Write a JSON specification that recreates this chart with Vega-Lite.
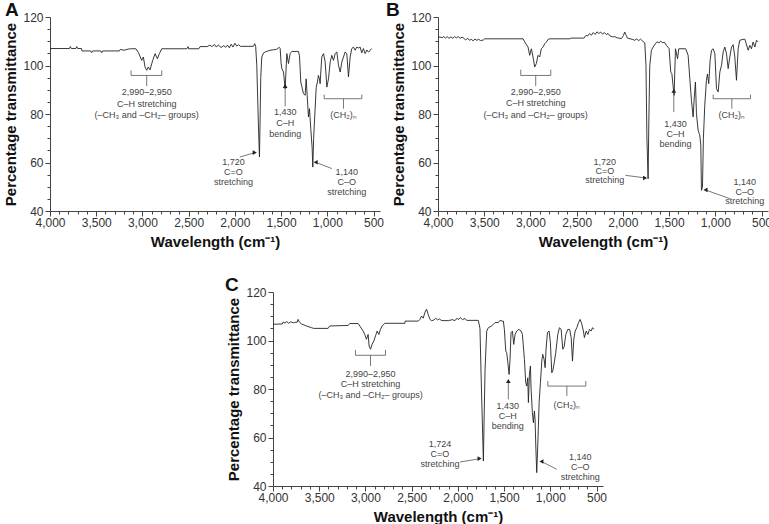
{
"$schema": "https://vega.github.io/schema/vega-lite/v6.json",
"padding": {"left": 3, "top": 1, "right": 0, "bottom": 0},
"background": "white",
"config": {
  "font": "Liberation Sans",
  "view": {"stroke": null},
  "axis": {"grid": false, "domainColor": "#444", "tickColor": "#444", "labelColor": "#333", "labelFontSize": 12, "labelFont": "Liberation Sans", "titleFont": "Liberation Sans", "titleFontWeight": "bold", "titleColor": "#111", "labelOverlap": false, "labelFlush": false, "labelBound": false, "tickCount": 200},
  "axisX": {"titleFontSize": 15},
  "axisY": {"titleFontSize": 15},
  "title": {"font": "Liberation Sans", "fontSize": 19, "fontWeight": "bold", "color": "#111", "anchor": "start", "frame": "group"}
},
"datasets": {
"spec": [
{"p":"A","w":4000,"t":107},{"p":"A","w":3790,"t":107},{"p":"A","w":3780,"t":107.8},{"p":"A","w":3770,"t":107},{"p":"A","w":3720,"t":107},{"p":"A","w":3710,"t":107.8},{"p":"A","w":3700,"t":107},{"p":"A","w":3660,"t":107},{"p":"A","w":3655,"t":106},{"p":"A","w":3560,"t":106},{"p":"A","w":3550,"t":105.3},{"p":"A","w":3540,"t":106},{"p":"A","w":3450,"t":106},{"p":"A","w":3440,"t":105.3},{"p":"A","w":3430,"t":106},{"p":"A","w":3250,"t":106},{"p":"A","w":3240,"t":106.6},{"p":"A","w":3200,"t":106.3},{"p":"A","w":3150,"t":106.8},{"p":"A","w":3120,"t":106.9},{"p":"A","w":3070,"t":106.9},{"p":"A","w":3044,"t":105.4},{"p":"A","w":3008,"t":102.1},{"p":"A","w":2990,"t":103.5},{"p":"A","w":2972,"t":99.4},{"p":"A","w":2954,"t":98},{"p":"A","w":2936,"t":99.4},{"p":"A","w":2918,"t":98.2},{"p":"A","w":2889,"t":102.1},{"p":"A","w":2863,"t":104.9},{"p":"A","w":2838,"t":102.8},{"p":"A","w":2817,"t":104.9},{"p":"A","w":2791,"t":106.9},{"p":"A","w":2520,"t":106.9},{"p":"A","w":2505,"t":107.8},{"p":"A","w":2500,"t":106.9},{"p":"A","w":2390,"t":106.9},{"p":"A","w":2376,"t":107.8},{"p":"A","w":2300,"t":107.8},{"p":"A","w":2270,"t":108.4},{"p":"A","w":2250,"t":107.8},{"p":"A","w":2220,"t":108.6},{"p":"A","w":2200,"t":107.6},{"p":"A","w":2180,"t":108.5},{"p":"A","w":2150,"t":107.4},{"p":"A","w":2120,"t":108.2},{"p":"A","w":2100,"t":107.5},{"p":"A","w":2080,"t":108.4},{"p":"A","w":2060,"t":107.3},{"p":"A","w":2040,"t":108.8},{"p":"A","w":2020,"t":107.6},{"p":"A","w":2000,"t":109.2},{"p":"A","w":1980,"t":108},{"p":"A","w":1960,"t":108.6},{"p":"A","w":1940,"t":107.9},{"p":"A","w":1800,"t":107.9},{"p":"A","w":1785,"t":109},{"p":"A","w":1775,"t":107.9},{"p":"A","w":1763,"t":100},{"p":"A","w":1745,"t":75},{"p":"A","w":1734,"t":62.3},{"p":"A","w":1727,"t":78},{"p":"A","w":1720,"t":95},{"p":"A","w":1709,"t":103.5},{"p":"A","w":1690,"t":105.2},{"p":"A","w":1670,"t":105.6},{"p":"A","w":1619,"t":106.3},{"p":"A","w":1580,"t":106.5},{"p":"A","w":1547,"t":106.7},{"p":"A","w":1520,"t":107.5},{"p":"A","w":1510,"t":107},{"p":"A","w":1500,"t":101},{"p":"A","w":1492,"t":98.7},{"p":"A","w":1474,"t":97.3},{"p":"A","w":1456,"t":90.4},{"p":"A","w":1438,"t":104.9},{"p":"A","w":1420,"t":100.8},{"p":"A","w":1402,"t":104.9},{"p":"A","w":1384,"t":105.8},{"p":"A","w":1312,"t":105.8},{"p":"A","w":1301,"t":104},{"p":"A","w":1287,"t":93.2},{"p":"A","w":1258,"t":88.4},{"p":"A","w":1240,"t":87.7},{"p":"A","w":1229,"t":94.5},{"p":"A","w":1218,"t":87.7},{"p":"A","w":1204,"t":78.8},{"p":"A","w":1193,"t":82.2},{"p":"A","w":1179,"t":74},{"p":"A","w":1164,"t":66},{"p":"A","w":1157,"t":58.1},{"p":"A","w":1148,"t":70},{"p":"A","w":1132,"t":82},{"p":"A","w":1120,"t":91},{"p":"A","w":1107,"t":93.2},{"p":"A","w":1096,"t":95.9},{"p":"A","w":1085,"t":94.6},{"p":"A","w":1078,"t":92.5},{"p":"A","w":1060,"t":103.5},{"p":"A","w":1041,"t":104.9},{"p":"A","w":1023,"t":101.4},{"p":"A","w":1005,"t":91.1},{"p":"A","w":987,"t":94.5},{"p":"A","w":969,"t":101.4},{"p":"A","w":951,"t":104.2},{"p":"A","w":933,"t":102.1},{"p":"A","w":915,"t":104.9},{"p":"A","w":897,"t":105.6},{"p":"A","w":879,"t":100.1},{"p":"A","w":861,"t":97.3},{"p":"A","w":843,"t":101.4},{"p":"A","w":825,"t":103.5},{"p":"A","w":807,"t":105.6},{"p":"A","w":789,"t":104.8},{"p":"A","w":771,"t":95.3},{"p":"A","w":753,"t":103.5},{"p":"A","w":735,"t":107},{"p":"A","w":717,"t":107.6},{"p":"A","w":699,"t":106.3},{"p":"A","w":681,"t":107.6},{"p":"A","w":663,"t":107.2},{"p":"A","w":645,"t":107.6},{"p":"A","w":627,"t":105.2},{"p":"A","w":609,"t":107},{"p":"A","w":591,"t":104.9},{"p":"A","w":572,"t":106.4},{"p":"A","w":554,"t":105.5},{"p":"A","w":536,"t":106.3},{"p":"A","w":520,"t":107},
{"p":"B","w":4000,"t":111.8},{"p":"B","w":3950,"t":111.5},{"p":"B","w":3940,"t":112},{"p":"B","w":3920,"t":111.3},{"p":"B","w":3900,"t":111.9},{"p":"B","w":3880,"t":111.2},{"p":"B","w":3860,"t":111.8},{"p":"B","w":3840,"t":111.2},{"p":"B","w":3820,"t":111.9},{"p":"B","w":3800,"t":111.4},{"p":"B","w":3780,"t":111.9},{"p":"B","w":3760,"t":111.2},{"p":"B","w":3740,"t":111.7},{"p":"B","w":3720,"t":111.2},{"p":"B","w":3700,"t":110.5},{"p":"B","w":3680,"t":111.3},{"p":"B","w":3660,"t":110.4},{"p":"B","w":3640,"t":110.8},{"p":"B","w":3620,"t":110.2},{"p":"B","w":3600,"t":110.9},{"p":"B","w":3580,"t":110.4},{"p":"B","w":3560,"t":110.8},{"p":"B","w":3540,"t":110.3},{"p":"B","w":3510,"t":110.5},{"p":"B","w":3495,"t":111},{"p":"B","w":3080,"t":111},{"p":"B","w":3062,"t":109.7},{"p":"B","w":3026,"t":107.6},{"p":"B","w":3008,"t":104.2},{"p":"B","w":2990,"t":106.9},{"p":"B","w":2972,"t":103.5},{"p":"B","w":2954,"t":99.4},{"p":"B","w":2936,"t":100.8},{"p":"B","w":2918,"t":104.2},{"p":"B","w":2900,"t":103.5},{"p":"B","w":2882,"t":106.9},{"p":"B","w":2864,"t":107.6},{"p":"B","w":2845,"t":109},{"p":"B","w":2827,"t":109.7},{"p":"B","w":2809,"t":110.8},{"p":"B","w":2790,"t":111},{"p":"B","w":2575,"t":111},{"p":"B","w":2560,"t":111.3},{"p":"B","w":2420,"t":111.3},{"p":"B","w":2400,"t":112.4},{"p":"B","w":2380,"t":112.2},{"p":"B","w":2360,"t":113.2},{"p":"B","w":2340,"t":112.5},{"p":"B","w":2320,"t":113.6},{"p":"B","w":2300,"t":112.8},{"p":"B","w":2280,"t":113.9},{"p":"B","w":2260,"t":113.2},{"p":"B","w":2240,"t":113.8},{"p":"B","w":2220,"t":112.9},{"p":"B","w":2200,"t":113.6},{"p":"B","w":2180,"t":112.8},{"p":"B","w":2160,"t":113.2},{"p":"B","w":2140,"t":112.2},{"p":"B","w":2110,"t":111.8},{"p":"B","w":2088,"t":111.9},{"p":"B","w":2060,"t":111.4},{"p":"B","w":2030,"t":111.2},{"p":"B","w":2016,"t":111.1},{"p":"B","w":1995,"t":112.3},{"p":"B","w":1980,"t":113.8},{"p":"B","w":1965,"t":112.5},{"p":"B","w":1950,"t":111.3},{"p":"B","w":1900,"t":110.8},{"p":"B","w":1871,"t":110.4},{"p":"B","w":1850,"t":111},{"p":"B","w":1830,"t":110.2},{"p":"B","w":1810,"t":110.9},{"p":"B","w":1790,"t":110.2},{"p":"B","w":1763,"t":109.3},{"p":"B","w":1750,"t":100},{"p":"B","w":1740,"t":70},{"p":"B","w":1727,"t":53.3},{"p":"B","w":1718,"t":80},{"p":"B","w":1709,"t":100},{"p":"B","w":1691,"t":106.3},{"p":"B","w":1673,"t":107.6},{"p":"B","w":1650,"t":108.9},{"p":"B","w":1630,"t":109.8},{"p":"B","w":1610,"t":109.3},{"p":"B","w":1590,"t":110},{"p":"B","w":1570,"t":109.4},{"p":"B","w":1550,"t":109.6},{"p":"B","w":1529,"t":108.3},{"p":"B","w":1500,"t":107},{"p":"B","w":1482,"t":97.3},{"p":"B","w":1470,"t":96.6},{"p":"B","w":1446,"t":87.7},{"p":"B","w":1431,"t":106.9},{"p":"B","w":1409,"t":102.8},{"p":"B","w":1395,"t":106.9},{"p":"B","w":1320,"t":106.9},{"p":"B","w":1294,"t":104.2},{"p":"B","w":1276,"t":94.6},{"p":"B","w":1258,"t":85.6},{"p":"B","w":1240,"t":78.8},{"p":"B","w":1229,"t":86.2},{"p":"B","w":1215,"t":93.2},{"p":"B","w":1204,"t":80.1},{"p":"B","w":1186,"t":73.3},{"p":"B","w":1175,"t":72},{"p":"B","w":1168,"t":71.2},{"p":"B","w":1157,"t":67.1},{"p":"B","w":1150,"t":48.5},{"p":"B","w":1139,"t":49.8},{"p":"B","w":1129,"t":69.8},{"p":"B","w":1114,"t":83.6},{"p":"B","w":1096,"t":93.9},{"p":"B","w":1085,"t":96.5},{"p":"B","w":1071,"t":92.5},{"p":"B","w":1056,"t":102.1},{"p":"B","w":1041,"t":106.3},{"p":"B","w":1023,"t":106.9},{"p":"B","w":1005,"t":104.9},{"p":"B","w":987,"t":90.4},{"p":"B","w":969,"t":89.1},{"p":"B","w":951,"t":97.3},{"p":"B","w":933,"t":100.1},{"p":"B","w":915,"t":105.6},{"p":"B","w":897,"t":107.6},{"p":"B","w":879,"t":104.9},{"p":"B","w":861,"t":98.7},{"p":"B","w":843,"t":103.5},{"p":"B","w":825,"t":107.6},{"p":"B","w":807,"t":108.6},{"p":"B","w":789,"t":103.5},{"p":"B","w":771,"t":93.9},{"p":"B","w":753,"t":106.9},{"p":"B","w":735,"t":110.4},{"p":"B","w":700,"t":110.8},{"p":"B","w":680,"t":110.8},{"p":"B","w":645,"t":106.3},{"p":"B","w":627,"t":108.3},{"p":"B","w":609,"t":106.9},{"p":"B","w":591,"t":109.7},{"p":"B","w":572,"t":107.6},{"p":"B","w":554,"t":110.4},{"p":"B","w":536,"t":109.7},
{"p":"C","w":4000,"t":106.7},{"p":"C","w":3900,"t":106.8},{"p":"C","w":3890,"t":107.6},{"p":"C","w":3870,"t":107.2},{"p":"C","w":3850,"t":107.8},{"p":"C","w":3830,"t":107.1},{"p":"C","w":3810,"t":107.7},{"p":"C","w":3780,"t":107.3},{"p":"C","w":3765,"t":107.5},{"p":"C","w":3740,"t":107.5},{"p":"C","w":3729,"t":108.7},{"p":"C","w":3715,"t":107.6},{"p":"C","w":3690,"t":106.8},{"p":"C","w":3639,"t":106},{"p":"C","w":3585,"t":105.3},{"p":"C","w":3560,"t":105},{"p":"C","w":3404,"t":105},{"p":"C","w":3386,"t":106},{"p":"C","w":3187,"t":106.2},{"p":"C","w":3170,"t":107},{"p":"C","w":3079,"t":107},{"p":"C","w":3061,"t":106},{"p":"C","w":3025,"t":103.9},{"p":"C","w":3007,"t":102.5},{"p":"C","w":2989,"t":100.5},{"p":"C","w":2971,"t":102.5},{"p":"C","w":2960,"t":97.7},{"p":"C","w":2945,"t":96.4},{"p":"C","w":2927,"t":98.5},{"p":"C","w":2909,"t":99.8},{"p":"C","w":2891,"t":101.9},{"p":"C","w":2873,"t":103.9},{"p":"C","w":2855,"t":102.5},{"p":"C","w":2837,"t":104.6},{"p":"C","w":2819,"t":106},{"p":"C","w":2790,"t":107.1},{"p":"C","w":2573,"t":107.1},{"p":"C","w":2570,"t":108},{"p":"C","w":2429,"t":108},{"p":"C","w":2411,"t":108.7},{"p":"C","w":2393,"t":110.1},{"p":"C","w":2375,"t":109.2},{"p":"C","w":2357,"t":111.5},{"p":"C","w":2339,"t":112.9},{"p":"C","w":2321,"t":110.8},{"p":"C","w":2302,"t":108.7},{"p":"C","w":2285,"t":108.2},{"p":"C","w":2260,"t":108.4},{"p":"C","w":2240,"t":109.2},{"p":"C","w":2220,"t":108.5},{"p":"C","w":2200,"t":108.9},{"p":"C","w":2180,"t":108.3},{"p":"C","w":2160,"t":108.2},{"p":"C","w":2100,"t":108.2},{"p":"C","w":2060,"t":108.6},{"p":"C","w":2031,"t":108.2},{"p":"C","w":2010,"t":109.2},{"p":"C","w":1995,"t":108.6},{"p":"C","w":1975,"t":109.5},{"p":"C","w":1950,"t":108.6},{"p":"C","w":1923,"t":109.1},{"p":"C","w":1905,"t":108.3},{"p":"C","w":1779,"t":108.3},{"p":"C","w":1761,"t":105},{"p":"C","w":1745,"t":80},{"p":"C","w":1724,"t":50.3},{"p":"C","w":1715,"t":70},{"p":"C","w":1706,"t":88.1},{"p":"C","w":1688,"t":103.9},{"p":"C","w":1670,"t":105.3},{"p":"C","w":1634,"t":106},{"p":"C","w":1598,"t":107.4},{"p":"C","w":1562,"t":107.4},{"p":"C","w":1544,"t":108.3},{"p":"C","w":1520,"t":108},{"p":"C","w":1508,"t":108},{"p":"C","w":1497,"t":104.6},{"p":"C","w":1482,"t":95.7},{"p":"C","w":1472,"t":95},{"p":"C","w":1461,"t":91.5},{"p":"C","w":1446,"t":86},{"p":"C","w":1436,"t":92},{"p":"C","w":1425,"t":103.2},{"p":"C","w":1410,"t":103.9},{"p":"C","w":1396,"t":98.4},{"p":"C","w":1381,"t":102.5},{"p":"C","w":1363,"t":103.9},{"p":"C","w":1340,"t":104.6},{"p":"C","w":1316,"t":103.9},{"p":"C","w":1302,"t":102.5},{"p":"C","w":1280,"t":92.2},{"p":"C","w":1266,"t":82.6},{"p":"C","w":1255,"t":81.2},{"p":"C","w":1244,"t":84.6},{"p":"C","w":1237,"t":74.4},{"p":"C","w":1226,"t":86},{"p":"C","w":1215,"t":89.5},{"p":"C","w":1208,"t":79.9},{"p":"C","w":1194,"t":70.2},{"p":"C","w":1183,"t":66.1},{"p":"C","w":1172,"t":70.9},{"p":"C","w":1165,"t":67.5},{"p":"C","w":1157,"t":56.5},{"p":"C","w":1147,"t":45.5},{"p":"C","w":1136,"t":56.5},{"p":"C","w":1121,"t":74.4},{"p":"C","w":1107,"t":82.6},{"p":"C","w":1092,"t":91.5},{"p":"C","w":1082,"t":94.3},{"p":"C","w":1067,"t":92.2},{"p":"C","w":1056,"t":88.8},{"p":"C","w":1046,"t":96.4},{"p":"C","w":1031,"t":103.2},{"p":"C","w":1013,"t":103.9},{"p":"C","w":999,"t":99.1},{"p":"C","w":984,"t":86.7},{"p":"C","w":973,"t":87.5},{"p":"C","w":955,"t":91.5},{"p":"C","w":941,"t":95},{"p":"C","w":919,"t":102.5},{"p":"C","w":901,"t":105.3},{"p":"C","w":883,"t":104.6},{"p":"C","w":865,"t":96.4},{"p":"C","w":850,"t":97.5},{"p":"C","w":832,"t":102.5},{"p":"C","w":811,"t":104.6},{"p":"C","w":790,"t":104.5},{"p":"C","w":774,"t":101.2},{"p":"C","w":760,"t":91.5},{"p":"C","w":746,"t":100.5},{"p":"C","w":731,"t":103.9},{"p":"C","w":713,"t":105.3},{"p":"C","w":695,"t":107.4},{"p":"C","w":677,"t":108.7},{"p":"C","w":659,"t":106.7},{"p":"C","w":642,"t":103.9},{"p":"C","w":631,"t":101.2},{"p":"C","w":612,"t":103.9},{"p":"C","w":594,"t":102.5},{"p":"C","w":576,"t":104.6},{"p":"C","w":558,"t":103.9},{"p":"C","w":543,"t":105.3},{"p":"C","w":529,"t":104.6}
],
"rules": [
{"p":"A","w1":3123,"t1":95.9,"w2":2791,"t2":95.9},{"p":"A","w1":3123,"t1":95.9,"w2":3123,"t2":98},{"p":"A","w1":2791,"t1":95.9,"w2":2791,"t2":98},{"p":"A","w1":2954,"t1":95.9,"w2":2954,"t2":91.5},
{"p":"A","w1":1034,"t1":86.3,"w2":627,"t2":86.3},{"p":"A","w1":1034,"t1":86.3,"w2":1034,"t2":88},{"p":"A","w1":627,"t1":86.3,"w2":627,"t2":88},{"p":"A","w1":825,"t1":86.3,"w2":825,"t2":82.2},
{"p":"A","w1":1456,"t1":83.2,"w2":1456,"t2":91.5},{"p":"A","w1":1944,"t1":62.3,"w2":1790,"t2":64},{"p":"A","w1":951,"t1":57.5,"w2":1120,"t2":60},
{"p":"B","w1":3105,"t1":95.9,"w2":2780,"t2":95.9},{"p":"B","w1":3105,"t1":95.9,"w2":3105,"t2":98.3},{"p":"B","w1":2780,"t1":95.9,"w2":2780,"t2":98.3},{"p":"B","w1":2943,"t1":95.9,"w2":2943,"t2":91.5},
{"p":"B","w1":1023,"t1":86.3,"w2":619,"t2":86.3},{"p":"B","w1":1023,"t1":86.3,"w2":1023,"t2":88},{"p":"B","w1":619,"t1":86.3,"w2":619,"t2":88},{"p":"B","w1":821,"t1":86.3,"w2":821,"t2":82.2},
{"p":"B","w1":1449,"t1":80.8,"w2":1449,"t2":89.5},{"p":"B","w1":1972,"t1":54.7,"w2":1765,"t2":53.7},{"p":"B","w1":843,"t1":45.1,"w2":1100,"t2":48.6},
{"p":"C","w1":3108,"t1":93.9,"w2":2783,"t2":93.9},{"p":"C","w1":3108,"t1":93.9,"w2":3108,"t2":96.1},{"p":"C","w1":2783,"t1":93.9,"w2":2783,"t2":96.1},{"p":"C","w1":2945,"t1":93.9,"w2":2945,"t2":89.5},
{"p":"C","w1":1027,"t1":81.2,"w2":616,"t2":81.2},{"p":"C","w1":1027,"t1":81.2,"w2":1027,"t2":83.3},{"p":"C","w1":616,"t1":81.2,"w2":616,"t2":83.3},{"p":"C","w1":821,"t1":81.2,"w2":821,"t2":77.1},
{"p":"C","w1":1454,"t1":75.7,"w2":1454,"t2":83.2},{"p":"C","w1":1977,"t1":49.9,"w2":1770,"t2":51.2},{"p":"C","w1":930,"t1":46.9,"w2":1090,"t2":50}
],
"heads": [
{"p":"A","w":1456,"t":91.6,"dir":"up"},{"p":"A","w":1785,"t":64.1,"dir":"right"},{"p":"A","w":1126,"t":60.1,"dir":"left"},
{"p":"B","w":1449,"t":89.6,"dir":"up"},{"p":"B","w":1760,"t":53.6,"dir":"right"},{"p":"B","w":1106,"t":48.7,"dir":"left"},
{"p":"C","w":1454,"t":83.3,"dir":"up"},{"p":"C","w":1765,"t":51.3,"dir":"right"},{"p":"C","w":1096,"t":50.1,"dir":"left"}
],
"labels": [
{"p":"A","w":2954,"t":89.1,"s":"2,990–2,950"},{"p":"A","w":2954,"t":84.3,"s":"C–H stretching"},{"p":"A","w":2954,"t":79.5,"s":"(–CH₃ and –CH₂– groups)"},
{"p":"A","w":1456,"t":80.8,"s":"1,430"},{"p":"A","w":1456,"t":76.4,"s":"C–H"},{"p":"A","w":1456,"t":71.9,"s":"bending"},
{"p":"A","w":825,"t":79.5,"s":"(CH₂)ₙ"},
{"p":"A","w":2016,"t":60.2,"s":"1,720"},{"p":"A","w":2016,"t":56.1,"s":"C=O"},{"p":"A","w":2016,"t":52,"s":"stretching"},
{"p":"A","w":789,"t":56.1,"s":"1,140"},{"p":"A","w":789,"t":52,"s":"C–O"},{"p":"A","w":789,"t":47.8,"s":"stretching"},
{"p":"B","w":2943,"t":89.1,"s":"2,990–2,950"},{"p":"B","w":2943,"t":84.5,"s":"C–H stretching"},{"p":"B","w":2943,"t":79.7,"s":"(–CH₃ and –CH₂– groups)"},
{"p":"B","w":1431,"t":76,"s":"1,430"},{"p":"B","w":1431,"t":71.9,"s":"C–H"},{"p":"B","w":1431,"t":67.5,"s":"bending"},
{"p":"B","w":821,"t":79.5,"s":"(CH₂)ₙ"},
{"p":"B","w":2196,"t":60.2,"s":"1,720"},{"p":"B","w":2196,"t":56.4,"s":"C=O"},{"p":"B","w":2196,"t":52.6,"s":"stretching"},
{"p":"B","w":681,"t":52,"s":"1,140"},{"p":"B","w":681,"t":47.8,"s":"C–O"},{"p":"B","w":681,"t":44.1,"s":"stretching"},
{"p":"C","w":2945,"t":86.3,"s":"2,990–2,950"},{"p":"C","w":2945,"t":81.9,"s":"C–H stretching"},{"p":"C","w":2945,"t":77.4,"s":"(–CH₃ and –CH₂– groups)"},
{"p":"C","w":1461,"t":73,"s":"1,430"},{"p":"C","w":1461,"t":68.9,"s":"C–H"},{"p":"C","w":1461,"t":64.7,"s":"bending"},
{"p":"C","w":821,"t":73.3,"s":"(CH₂)ₙ"},
{"p":"C","w":2194,"t":57.2,"s":"1,724"},{"p":"C","w":2194,"t":53.1,"s":"C=O"},{"p":"C","w":2194,"t":48.9,"s":"stretching"},
{"p":"C","w":677,"t":52.1,"s":"1,140"},{"p":"C","w":677,"t":48,"s":"C–O"},{"p":"C","w":677,"t":43.8,"s":"stretching"}
]
},
"spacing": 27,
"vconcat": [
{"bounds": "flush", "spacing": 58, "hconcat": [
{"width": 330, "height": 194, "title": {"text": "A", "dx": -45, "offset": -9},
 "layer": [
  {"data": {"name": "spec"}, "transform": [{"filter": "datum.p == 'A'"}], "mark": {"type": "line", "color": "#222", "strokeWidth": 0.9},
   "encoding": {
    "x": {"field": "w", "type": "quantitative", "scale": {"domain": [430, 4000], "reverse": true, "nice": false, "zero": false}, "axis": {"title": "Wavelength (cm⁻¹)", "labelOverlap": false, "tickCount": 200, "values": [4000,3900,3800,3700,3600,3500,3400,3300,3200,3100,3000,2900,2800,2700,2600,2500,2400,2300,2200,2100,2000,1900,1800,1700,1600,1500,1400,1300,1200,1100,1000,900,800,700,600,500], "labelExpr": "datum.value % 500 === 0 ? format(datum.value, ',') : ''", "tickSize": {"condition": {"test": "datum.value % 500 === 0", "value": 5}, "value": 3}, "labelPadding": 1, "titlePadding": 6}},
    "y": {"field": "t", "type": "quantitative", "scale": {"domain": [40, 120], "nice": false, "zero": false}, "axis": {"title": "Percentage transmittance", "labelOverlap": false, "tickCount": 200, "values": [40,45,50,55,60,65,70,75,80,85,90,95,100,105,110,115,120], "labelExpr": "datum.value % 20 === 0 ? format(datum.value, 'd') : ''", "tickSize": {"condition": {"test": "datum.value % 20 === 0", "value": 5}, "value": 3}, "labelPadding": 2, "titlePadding": 4}},
    "order": {"value": null}}},
  {"data": {"name": "rules"}, "transform": [{"filter": "datum.p == 'A'"}], "mark": {"type": "rule", "color": "#555", "strokeWidth": 0.8},
   "encoding": {"x": {"field": "w1", "type": "quantitative"}, "y": {"field": "t1", "type": "quantitative"}, "x2": {"field": "w2"}, "y2": {"field": "t2"}}},
  {"data": {"name": "heads"}, "transform": [{"filter": "datum.p == 'A'"}], "mark": {"type": "point", "filled": true, "size": 22, "color": "#222", "opacity": 1},
   "encoding": {"x": {"field": "w", "type": "quantitative"}, "y": {"field": "t", "type": "quantitative"}, "shape": {"field": "dir", "type": "nominal", "scale": {"domain": ["up", "left", "right"], "range": ["triangle-up", "triangle-left", "triangle-right"]}, "legend": null}}},
  {"data": {"name": "labels"}, "transform": [{"filter": "datum.p == 'A'"}], "mark": {"type": "text", "fontSize": 9, "color": "#444"},
   "encoding": {"x": {"field": "w", "type": "quantitative"}, "y": {"field": "t", "type": "quantitative"}, "text": {"field": "s"}}}
 ]},
{"width": 330, "height": 194, "title": {"text": "B", "dx": -52, "offset": -9},
 "layer": [
  {"data": {"name": "spec"}, "transform": [{"filter": "datum.p == 'B'"}], "mark": {"type": "line", "color": "#222", "strokeWidth": 0.9},
   "encoding": {
    "x": {"field": "w", "type": "quantitative", "scale": {"domain": [430, 4000], "reverse": true, "nice": false, "zero": false}, "axis": {"title": "Wavelength (cm⁻¹)", "labelOverlap": false, "tickCount": 200, "values": [4000,3900,3800,3700,3600,3500,3400,3300,3200,3100,3000,2900,2800,2700,2600,2500,2400,2300,2200,2100,2000,1900,1800,1700,1600,1500,1400,1300,1200,1100,1000,900,800,700,600,500], "labelExpr": "datum.value % 500 === 0 ? format(datum.value, ',') : ''", "tickSize": {"condition": {"test": "datum.value % 500 === 0", "value": 5}, "value": 3}, "labelPadding": 1, "titlePadding": 6}},
    "y": {"field": "t", "type": "quantitative", "scale": {"domain": [40, 120], "nice": false, "zero": false}, "axis": {"title": "Percentage transmittance", "labelOverlap": false, "tickCount": 200, "values": [40,45,50,55,60,65,70,75,80,85,90,95,100,105,110,115,120], "labelExpr": "datum.value % 20 === 0 ? format(datum.value, 'd') : ''", "tickSize": {"condition": {"test": "datum.value % 20 === 0", "value": 5}, "value": 3}, "labelPadding": 2, "titlePadding": 4}},
    "order": {"value": null}}},
  {"data": {"name": "rules"}, "transform": [{"filter": "datum.p == 'B'"}], "mark": {"type": "rule", "color": "#555", "strokeWidth": 0.8},
   "encoding": {"x": {"field": "w1", "type": "quantitative"}, "y": {"field": "t1", "type": "quantitative"}, "x2": {"field": "w2"}, "y2": {"field": "t2"}}},
  {"data": {"name": "heads"}, "transform": [{"filter": "datum.p == 'B'"}], "mark": {"type": "point", "filled": true, "size": 22, "color": "#222", "opacity": 1},
   "encoding": {"x": {"field": "w", "type": "quantitative"}, "y": {"field": "t", "type": "quantitative"}, "shape": {"field": "dir", "type": "nominal", "scale": {"domain": ["up", "left", "right"], "range": ["triangle-up", "triangle-left", "triangle-right"]}, "legend": null}}},
  {"data": {"name": "labels"}, "transform": [{"filter": "datum.p == 'B'"}], "mark": {"type": "text", "fontSize": 9, "color": "#444"},
   "encoding": {"x": {"field": "w", "type": "quantitative"}, "y": {"field": "t", "type": "quantitative"}, "text": {"field": "s"}}}
 ]}
]},
{"bounds": "flush", "spacing": 21, "hconcat": [
{"width": 202, "height": 194, "data": {"values": []}, "mark": {"type": "point", "opacity": 0}, "encoding": {}},
{"width": 330, "height": 194, "title": {"text": "C", "dx": -48, "offset": -9},
 "layer": [
  {"data": {"name": "spec"}, "transform": [{"filter": "datum.p == 'C'"}], "mark": {"type": "line", "color": "#222", "strokeWidth": 0.9},
   "encoding": {
    "x": {"field": "w", "type": "quantitative", "scale": {"domain": [430, 4000], "reverse": true, "nice": false, "zero": false}, "axis": {"title": "Wavelength (cm⁻¹)", "labelOverlap": false, "tickCount": 200, "values": [4000,3900,3800,3700,3600,3500,3400,3300,3200,3100,3000,2900,2800,2700,2600,2500,2400,2300,2200,2100,2000,1900,1800,1700,1600,1500,1400,1300,1200,1100,1000,900,800,700,600,500], "labelExpr": "datum.value % 500 === 0 ? format(datum.value, ',') : ''", "tickSize": {"condition": {"test": "datum.value % 500 === 0", "value": 5}, "value": 3}, "labelPadding": 1, "titlePadding": 6}},
    "y": {"field": "t", "type": "quantitative", "scale": {"domain": [40, 120], "nice": false, "zero": false}, "axis": {"title": "Percentage transmittance", "labelOverlap": false, "tickCount": 200, "values": [40,45,50,55,60,65,70,75,80,85,90,95,100,105,110,115,120], "labelExpr": "datum.value % 20 === 0 ? format(datum.value, 'd') : ''", "tickSize": {"condition": {"test": "datum.value % 20 === 0", "value": 5}, "value": 3}, "labelPadding": 2, "titlePadding": 4}},
    "order": {"value": null}}},
  {"data": {"name": "rules"}, "transform": [{"filter": "datum.p == 'C'"}], "mark": {"type": "rule", "color": "#555", "strokeWidth": 0.8},
   "encoding": {"x": {"field": "w1", "type": "quantitative"}, "y": {"field": "t1", "type": "quantitative"}, "x2": {"field": "w2"}, "y2": {"field": "t2"}}},
  {"data": {"name": "heads"}, "transform": [{"filter": "datum.p == 'C'"}], "mark": {"type": "point", "filled": true, "size": 22, "color": "#222", "opacity": 1},
   "encoding": {"x": {"field": "w", "type": "quantitative"}, "y": {"field": "t", "type": "quantitative"}, "shape": {"field": "dir", "type": "nominal", "scale": {"domain": ["up", "left", "right"], "range": ["triangle-up", "triangle-left", "triangle-right"]}, "legend": null}}},
  {"data": {"name": "labels"}, "transform": [{"filter": "datum.p == 'C'"}], "mark": {"type": "text", "fontSize": 9, "color": "#444"},
   "encoding": {"x": {"field": "w", "type": "quantitative"}, "y": {"field": "t", "type": "quantitative"}, "text": {"field": "s"}}}
 ]}
]}
]
}
